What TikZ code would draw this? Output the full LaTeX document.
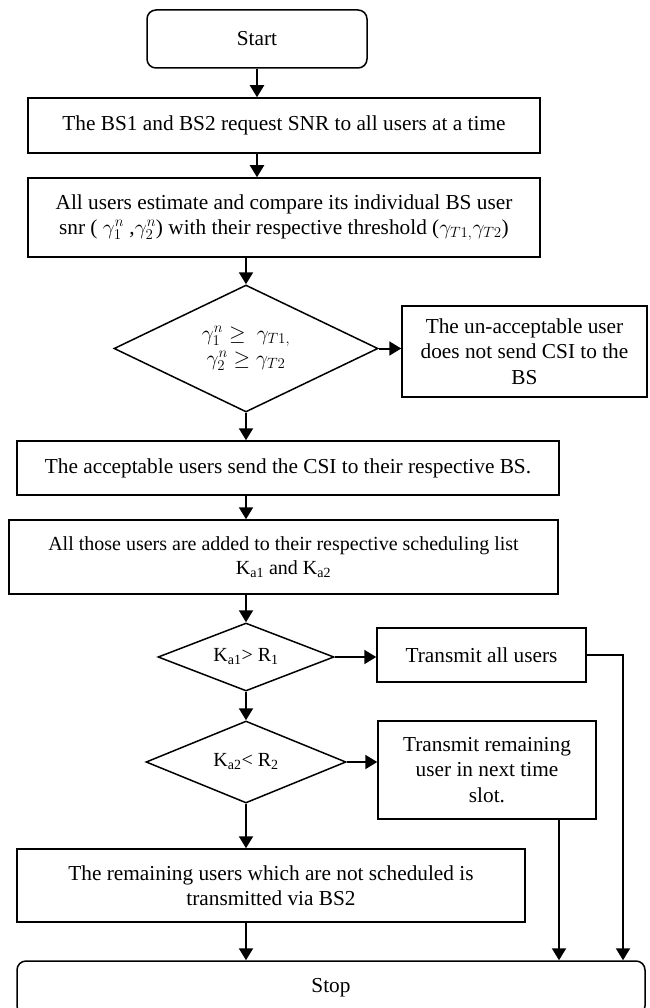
\RequirePackage{fix-cm}
\documentclass[tikz,border=0pt]{standalone}
\usepackage{fontspec}
\setmainfont{Liberation Serif}
\usetikzlibrary{shapes.geometric,arrows.meta}
\tikzset{
  procbox/.style={draw,line width=1.5pt,align=center},
  termbox/.style={procbox,rounded corners=9pt},
  decision/.style={draw,diamond,line width=1.5pt,align=center,inner sep=0pt},
  arr/.style={line width=2pt,-{Triangle[length=12pt,width=14pt]}}
}
\begin{document}
\begin{tikzpicture}[x=1pt,y=-1pt,every node/.style={font=\fontsize{21.3}{25.5}\selectfont}]
			\useasboundingbox (0,0) rectangle (649,1008);
			\node[termbox,minimum width=220pt,minimum height=58pt] (start) at (257,39) {Start};
			\node[procbox,minimum width=512pt,minimum height=55pt] (request) at (284,125.5) {The BS1 and BS2 request SNR to all users at a time};
			\node[procbox,minimum width=512pt,minimum height=79pt] (compare) at (284,217.5) {All users estimate and compare its individual BS user\\ snr ( $\gamma_1^n$ ,$\gamma_2^n$) with their respective threshold ($\gamma_{T1,}\gamma_{T2}$)};
			\node[decision,aspect=2.08,minimum width=264pt,minimum height=127pt] (check1) at (246,348.5) {$\gamma_1^n \geq\ \gamma_{T1,}$\\ $\gamma_2^n \geq \gamma_{T2}$};
			\node[procbox,minimum width=245pt,minimum height=91pt] (reject) at (524.5,351.5) {The un-acceptable user\\ does not send CSI to the\\ BS};
			\node[procbox,minimum width=542pt,minimum height=54pt] (accept) at (288,468) {The acceptable users send the CSI to their respective BS.};
			\node[procbox,minimum width=549pt,minimum height=74pt,font=\fontsize{20}{24}\selectfont] (addlist) at (283.5,557) {All those users are added to their respective scheduling list\\ K\textsubscript{a1} and K\textsubscript{a2}};
			\node[decision,aspect=2.6,minimum width=176pt,minimum height=68pt,font=\fontsize{20}{24}\selectfont] (ka1) at (246,657) {K\textsubscript{a1}> R\textsubscript{1}};
			\node[procbox,minimum width=209pt,minimum height=54pt] (all) at (481.5,655) {Transmit all users};
			\node[decision,aspect=2.44,minimum width=200pt,minimum height=82pt,font=\fontsize{20}{24}\selectfont] (ka2) at (246,762) {K\textsubscript{a2}< R\textsubscript{2}};
			\node[procbox,minimum width=218pt,minimum height=98pt] (remain) at (487,770) {Transmit remaining\\ user in next time\\ slot.};
			\node[procbox,minimum width=508pt,minimum height=73pt] (rest) at (271,885.5) {The remaining users which are not scheduled is\\ transmitted via BS2};
			\node[termbox,minimum width=628pt,minimum height=54pt] (stop) at (331,988) {Stop};
			\coordinate (turn) at (623,655);
			\draw[arr] (start.south) -- (start.south |- request.north);
			\draw[arr] (request.south -| start) -- (compare.north -| start);
			\draw[arr] (compare.south -| check1) -- (check1.north);
			\draw[arr] (check1.east) -- (reject.west |- check1);
			\draw[arr] (check1.south) -- (accept.north -| check1);
			\draw[arr] (accept.south -| check1) -- (addlist.north -| check1);
			\draw[arr] (addlist.south -| ka1) -- (ka1.north);
			\draw[arr] (ka1.east) -- (all.west |- ka1);
			\draw[arr] (ka1.south) -- (ka2.north);
			\draw[arr] (ka2.east) -- (remain.west |- ka2);
			\draw[arr] (ka2.south) -- (rest.north -| ka2);
			\draw[arr] (rest.south -| ka2) -- (stop.north -| ka2);
			\draw[arr] ([xshift=72pt]remain.south) -- ([xshift=72pt]remain.south |- stop.north);
			\draw[arr] (all.east) -- (turn) -- (turn |- stop.north);
		\end{tikzpicture}
\end{document}
